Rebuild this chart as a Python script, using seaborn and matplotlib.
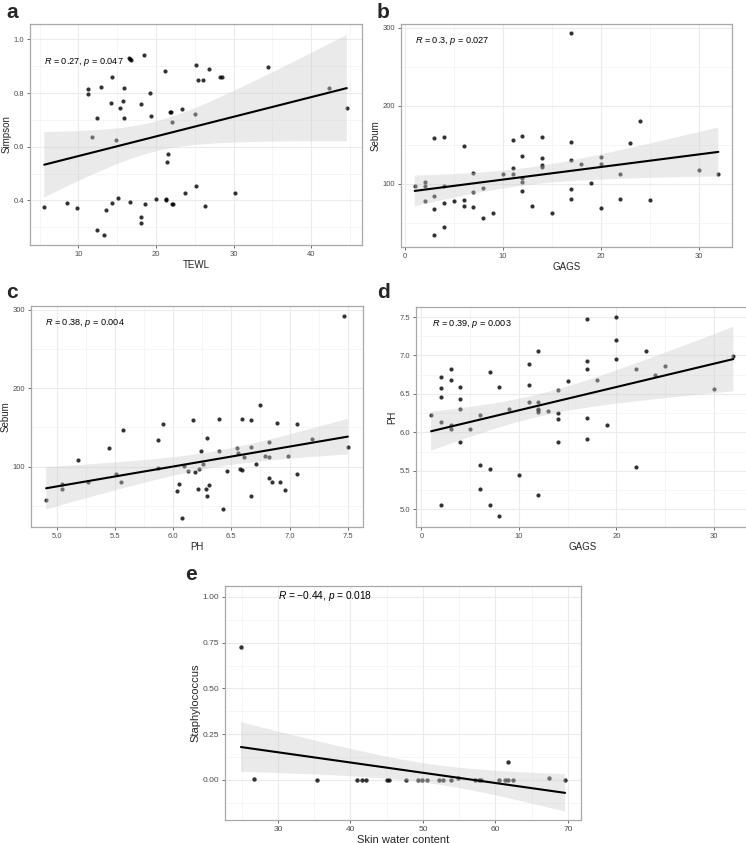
import matplotlib
matplotlib.use("Agg")
import matplotlib.pyplot as plt
import seaborn as sns
import numpy as np
from matplotlib.ticker import AutoMinorLocator, FormatStrFormatter

# ---- data ----
# a: TEWL vs Simpson
tewl = [5.6, 8.5, 9.8, 11.2, 11.3, 11.8, 12.4, 12.4, 12.9, 13.3,
        13.5, 14.3, 14.2, 14.3, 14.9, 15.1, 15.4, 15.7, 15.9, 15.9,
        16.5, 16.7, 16.8, 16.6, 18.1, 18.1, 18.1, 18.4, 18.6, 19.2,
        19.4, 20.0, 21.1, 21.3, 21.3, 21.5, 21.4, 21.8, 21.9, 22.1,
        22.1, 22.2, 23.4, 23.8, 25.0, 25.2, 25.2, 25.4, 26.0, 26.3,
        26.9, 28.3, 28.5, 30.2, 34.5, 42.3, 44.6]
simpson = [0.376, 0.389, 0.370, 0.815, 0.796, 0.637, 0.706, 0.288, 0.822, 0.273,
           0.365, 0.861, 0.761, 0.390, 0.625, 0.409, 0.744, 0.771, 0.817, 0.706,
           0.930, 0.925, 0.922, 0.393, 0.759, 0.337, 0.317, 0.940, 0.388, 0.800,
           0.716, 0.405, 0.883, 0.406, 0.401, 0.573, 0.543, 0.728, 0.729, 0.692,
           0.385, 0.386, 0.739, 0.426, 0.722, 0.903, 0.453, 0.848, 0.848, 0.378,
           0.889, 0.858, 0.861, 0.429, 0.897, 0.817, 0.745]

# b: GAGS vs Sebum
gags_b = [1, 2, 2, 2, 3, 3, 3, 3, 4, 4,
          4, 4, 5, 6, 6, 6, 7, 7, 7, 8,
          8, 9, 10, 11, 11, 11, 12, 12, 12, 12,
          12, 13, 14, 14, 14, 14, 15, 17, 17, 17,
          17, 17, 18, 19, 20, 20, 20, 22, 22, 23,
          24, 25, 30, 32]
sebum_b = [97, 103, 97, 78, 159, 85, 68, 34, 160, 97,
           76, 45, 78, 148, 79, 71, 114, 89, 70, 95,
           56, 63, 112, 156, 120, 112, 161, 136, 107, 103,
           91, 71, 160, 133, 124, 121, 63, 293, 154, 131,
           93, 80, 125, 101, 135, 125, 69, 112, 81, 153,
           180, 79, 118, 113]

# c: PH vs Sebum
ph_c = [4.91, 5.05, 5.05, 5.18, 5.27, 5.45, 5.51, 5.55, 5.57, 5.87,
        5.87, 5.91, 6.03, 6.05, 6.08, 6.09, 6.13, 6.17, 6.19, 6.21,
        6.22, 6.24, 6.26, 6.28, 6.29, 6.29, 6.31, 6.39, 6.39, 6.43,
        6.46, 6.55, 6.56, 6.57, 6.59, 6.59, 6.61, 6.67, 6.67, 6.67,
        6.71, 6.75, 6.79, 6.82, 6.82, 6.82, 6.85, 6.89, 6.92, 6.96,
        6.99, 7.06, 7.06, 7.19, 7.47, 7.50]
sebum_c = [57, 78, 71, 108, 80, 124, 90, 81, 147, 134,
           98, 154, 69, 78, 34, 101, 94, 160, 93, 71,
           97, 120, 103, 71, 63, 136, 77, 161, 120, 46,
           95, 124, 118, 97, 96, 161, 112, 63, 159, 125,
           103, 179, 114, 131, 86, 112, 80, 156, 81, 70,
           113, 91, 154, 135, 292, 125]

# d: GAGS vs PH
gags_d = [1, 2, 2, 2, 2, 2, 3, 3, 3, 3,
          4, 4, 4, 4, 5, 6, 6, 6, 7, 7,
          7, 8, 8, 9, 10, 11, 11, 11, 12, 12,
          12, 12, 12, 12, 13, 14, 14, 14, 14, 15,
          17, 17, 17, 17, 17, 18, 19, 20, 20, 20,
          22, 22, 23, 24, 25, 30, 32]
ph_d = [6.22, 6.72, 6.58, 6.46, 6.13, 5.05, 6.82, 6.68, 6.10, 6.04,
        6.59, 6.43, 6.31, 5.87, 6.05, 6.22, 5.57, 5.27, 6.79, 5.52,
        5.05, 6.59, 4.91, 6.30, 5.45, 6.89, 6.61, 6.40, 7.06, 6.40,
        6.31, 6.29, 6.27, 5.18, 6.28, 6.55, 6.25, 6.17, 5.87, 6.67,
        7.48, 6.93, 6.83, 6.19, 5.92, 6.68, 6.09, 7.50, 7.20, 6.96,
        6.83, 5.55, 7.06, 6.75, 6.86, 6.57, 6.99]

# e: Skin water content vs Staphylococcus
water_e = [24.9, 26.7, 35.4, 40.9, 41.6, 42.2, 45.0, 45.3, 47.6, 49.3,
           49.9, 50.6, 52.2, 52.7, 53.9, 54.9, 57.2, 57.7, 58.0, 60.5,
           61.3, 61.7, 61.7, 62.4, 67.4, 69.6]
staph_e = [0.725, 0.004, 0.0, 0.0, 0.0, 0.0, 0.0, 0.0, 0.0, 0.0,
           0.0, 0.0, 0.0, 0.0, 0.0, 0.009, 0.0, 0.0, 0.0, 0.0,
           0.0, 0.097, 0.0, 0.0, 0.011, 0.0]

cor_labels = {
    "a": "$R$ = 0.27, $p$ = 0.047",
    "b": "$R$ = 0.3, $p$ = 0.027",
    "c": "$R$ = 0.38, $p$ = 0.004",
    "d": "$R$ = 0.39, $p$ = 0.003",
    "e": "$R$ = \u22120.44, $p$ = 0.018",
}

sns.set_style("white")
plt.rcParams["font.family"] = ["Liberation Sans", "DejaVu Sans"]
plt.rcParams["mathtext.fontset"] = "custom"
plt.rcParams["mathtext.it"] = "Liberation Sans:italic"
plt.rcParams["mathtext.rm"] = "Liberation Sans"

W, H = 746, 843
fig = plt.figure(figsize=(W / 100, H / 100), dpi=100)


def box(l, t, r, b):
    return [l / W, 1 - b / H, (r - l) / W, (b - t) / H]


def t975(df):
    # Cornish-Fisher approximation of the 97.5% t quantile
    z = 1.959964
    return z + (z**3 + z) / (4 * df) + (5 * z**5 + 16 * z**3 + 3 * z) / (96 * df**2)


def lm_band(x, y, grid):
    # analytic 95% confidence band of a linear fit (like geom_smooth(method="lm"))
    n = len(x)
    b1, b0 = np.polyfit(x, y, 1)
    resid = y - (b0 + b1 * x)
    s = np.sqrt(np.sum(resid**2) / (n - 2))
    sxx = np.sum((x - x.mean())**2)
    se = s * np.sqrt(1 / n + (grid - x.mean())**2 / sxx)
    fit = b0 + b1 * grid
    return fit - t975(n - 2) * se, fit + t975(n - 2) * se


def panel(letter, rect, x, y, xlabel, ylabel, xlim, ylim, xticks, yticks,
          xfmt, yfmt, label_xy, letter_xy, big=False):
    x = np.array(x, dtype=float)
    y = np.array(y, dtype=float)
    ax = fig.add_axes(box(*rect))
    sns.regplot(x=x, y=y, ax=ax, ci=None,
                scatter_kws={"color": "black", "s": 10 if big else 9,
                             "linewidths": 0},
                line_kws={"color": "black", "lw": 1.5})
    grid = np.linspace(x.min(), x.max(), 100)
    lo, hi = lm_band(x, y, grid)
    # ribbon over the points, so points inside it look grey
    ax.fill_between(grid, lo, hi, facecolor="#cccccc", alpha=0.4,
                    edgecolor="none", zorder=1)
    ax.set_xlim(*xlim)
    ax.set_ylim(*ylim)
    ax.set_xticks(xticks)
    ax.set_yticks(yticks)
    ax.xaxis.set_major_formatter(FormatStrFormatter(xfmt))
    ax.yaxis.set_major_formatter(FormatStrFormatter(yfmt))
    ax.xaxis.set_minor_locator(AutoMinorLocator(2))
    ax.yaxis.set_minor_locator(AutoMinorLocator(2))
    ax.grid(True, which="major", color="#ebebeb", lw=0.8)
    ax.grid(True, which="minor", color="#f2f2f2", lw=0.5)
    ax.set_axisbelow(True)
    for s in ax.spines.values():
        s.set_color("#a8a8a8")
        s.set_linewidth(0.9)
    fs_tick = 6 if big else 5.5
    fs_lab = 8 if big else 7
    ax.tick_params(which="major", length=2.5, width=0.6, color="#555555",
                   labelsize=fs_tick, labelcolor="#4d4d4d", pad=1.5,
                   bottom=True, left=True)
    ax.tick_params(which="minor", length=0)
    ax.set_xlabel(xlabel, fontsize=fs_lab, labelpad=1.5)
    ax.set_ylabel(ylabel, fontsize=fs_lab, labelpad=2)
    ax.text(label_xy[0], label_xy[1], cor_labels[letter],
            fontsize=7.3 if big else 6.6, ha="left", va="center", color="black")
    fig.text(letter_xy[0] / W, 1 - letter_xy[1] / H, letter, fontsize=15,
             fontweight="bold", ha="left", va="center")
    return ax


panel("a", (30, 24, 362, 245), tewl, simpson, "TEWL", "Simpson",
      (3.76, 46.56), (0.234, 1.057), [10, 20, 30, 40], [0.4, 0.6, 0.8, 1.0],
      "%d", "%.1f", (5.6, 0.915), (6, 12))
panel("b", (401, 24, 732, 247), gags_b, sebum_b, "GAGS", "Sebum",
      (-0.4, 33.4), (19, 305), [0, 10, 20, 30], [100, 200, 300],
      "%d", "%d", (1.0, 283), (377, 12))
panel("c", (31, 306, 363, 527), ph_c, sebum_c, "PH", "Sebum",
      (4.78, 7.63), (23, 305), [5.0, 5.5, 6.0, 6.5, 7.0, 7.5], [100, 200, 300],
      "%.1f", "%d", (4.9, 283), (6, 292))
panel("d", (416, 307, 749, 527), gags_d, ph_d, "GAGS", "PH",
      (-0.55, 33.6), (4.77, 7.63), [0, 10, 20, 30],
      [5.0, 5.5, 6.0, 6.5, 7.0, 7.5], "%d", "%.1f", (1.07, 7.41), (377, 292))
panel("e", (225, 586, 581, 820), water_e, staph_e, "Skin water content",
      "Staphylococcus", (22.7, 71.8), (-0.219, 1.06), [30, 40, 50, 60, 70],
      [0.0, 0.25, 0.5, 0.75, 1.0], "%d", "%.2f", (30, 1.005), (185, 575),
      big=True)

fig.savefig("out.png", dpi=100)
